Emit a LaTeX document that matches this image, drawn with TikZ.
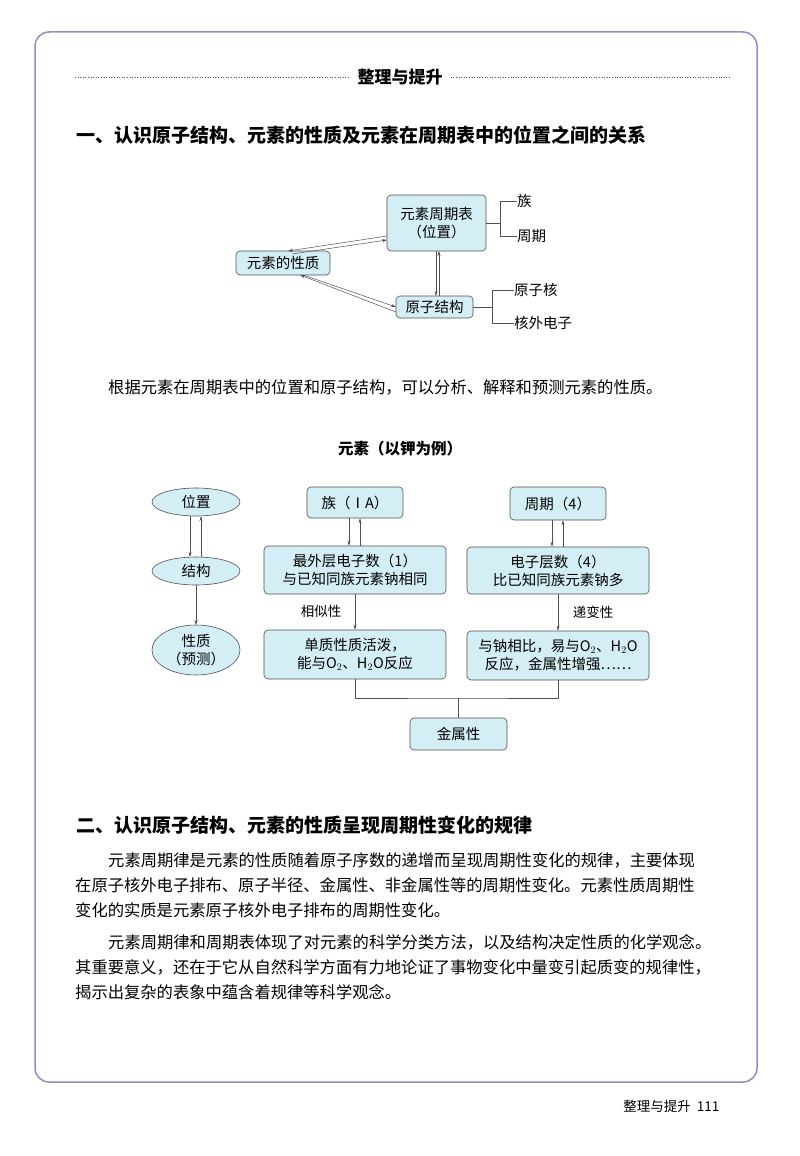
\documentclass[tikz,border=0pt]{standalone}
\usepackage{fontspec}
\setmainfont{Noto Sans CJK SC}
\usetikzlibrary{shapes.geometric,arrows.meta}
\definecolor{bx}{RGB}{212,238,245}
\definecolor{frm}{RGB}{150,140,200}
\definecolor{ln}{RGB}{80,80,80}
\tikzset{
 bx/.style={draw=ln,fill=bx,rounded corners=4pt,line width=0.6pt,inner sep=2pt,font=\fontsize{14.5}{18}\selectfont,align=center},
 el/.style={draw=ln,fill=bx,ellipse,line width=0.6pt,inner sep=1pt,font=\fontsize{14.5}{18}\selectfont,align=center},
 ar/.style={-{Stealth[length=5pt,width=3pt]},draw=ln,line width=0.5pt},
 ln/.style={draw=ln,line width=0.6pt},
 lbl/.style={font=\fontsize{14.5}{18}\selectfont,anchor=west,inner sep=0pt},
 para/.style={font=\fontsize{16.3}{20}\selectfont,anchor=west,inner sep=0pt},
}
\begin{document}
\begin{tikzpicture}[x=1pt,y=-1pt]
\useasboundingbox (0,0) rectangle (800,1156);
\draw[frm,line width=1.5pt,rounded corners=14pt] (35,32) rectangle (757,1082);
\node[font=\bfseries\fontsize{17}{20}\selectfont,inner xsep=8pt] (hdr) at (400,77) {整理与提升};
\draw[dotted,line width=1.2pt,ln] (75,77) -- (hdr.west);
\draw[dotted,line width=1.2pt,ln] (hdr.east) -- (730,77);
\node[font=\bfseries\fontsize{19}{22}\selectfont,anchor=west] (h1) at (73,135) {一、认识原子结构、元素的性质及元素在周期表中的位置之间的关系};
% top diagram
\node[bx,minimum width=99pt,minimum height=56pt] (tab) at (436.5,223) {元素周期表\\（位置）};
\node[bx,minimum width=94pt,minimum height=24pt] (xz) at (283,263) {元素的性质};
\node[bx,minimum width=77pt,minimum height=22pt] (yz) at (434.5,307) {原子结构};
\node[lbl] (zu) at (517,201) {族};
\node[lbl] (zq) at (517,236) {周期};
\node[lbl] (yzh) at (514,290) {原子核};
\node[lbl] (hw) at (514,323) {核外电子};
\draw[ln] (tab.east) -- (500,223) (500,201) -- (zu.west) (500,236) -- (zq.west) (500,201) -- (500,236);
\draw[ln] (yz.east) -- (492,307) (492,290) -- (yzh.west) (492,323) -- (hw.west) (492,290) -- (492,323);
\draw[ar] (387,236) -- (288,251);
\draw[ar] (292,254) -- (387,240);
\draw[ar] (396,312) -- (300,275);
\draw[ar] (303,275) -- (396,307) ;
\draw[ar] (436,251) -- (436,296);
\draw[ar] (439,296) -- (439,251);
\node[para] (p0) at (108,387) {根据元素在周期表中的位置和原子结构，可以分析、解释和预测元素的性质。};
% second diagram
\node[font=\bfseries\fontsize{15.5}{18}\selectfont] (t2) at (400,449) {元素（以钾为例）};
\node[el,minimum width=88pt,minimum height=28pt] (wz) at (196,502) {位置};
\node[el,minimum width=88pt,minimum height=28pt] (jg) at (196,571) {结构};
\node[el,minimum width=88pt,minimum height=50pt] (xzy) at (196,650) {性质\\（预测）};
\draw[ar] (190,516) -- (190,557);
\draw[ar] (201,557) -- (201,516);
\draw[ar] (196,585) -- (196,625);
\node[bx,minimum width=96pt,minimum height=31pt] (zuA) at (355,502.5) {族（ⅠA）};
\node[bx,minimum width=96pt,minimum height=33pt] (zq4) at (558,503.5) {周期（4）};
\node[bx,minimum width=182pt,minimum height=48pt] (zwc) at (355,570) {最外层电子数（1）\\与已知同族元素钠相同};
\node[bx,minimum width=182pt,minimum height=47pt] (dzc) at (558,570.5) {电子层数（4）\\比已知同族元素钠多};
\node[bx,minimum width=182pt,minimum height=49pt] (dz) at (355,654.5) {单质性质活泼，\\能与O$_2$、H$_2$O反应};
\node[bx,minimum width=182pt,minimum height=49pt] (yn) at (558,655.5) {与钠相比，易与O$_2$、H$_2$O\\反应，金属性增强……};
\node[bx,minimum width=97pt,minimum height=32pt] (js) at (458.5,734) {金属性};
\draw[ar] ([xshift=-6pt]zuA.south) -- ([xshift=-6pt]zwc.north);
\draw[ar] ([xshift=5pt]zwc.north) -- ([xshift=5pt]zuA.south);
\draw[ar] ([xshift=-6pt]zq4.south) -- ([xshift=-6pt]dzc.north);
\draw[ar] ([xshift=5pt]dzc.north) -- ([xshift=5pt]zq4.south);
\draw[ar] (zwc.south) -- (dz.north);
\draw[ar] (dzc.south) -- (yn.north);
\node[font=\fontsize{13.5}{16}\selectfont] (xs) at (321,611) {相似性};
\node[font=\fontsize{13.5}{16}\selectfont] (db) at (593,612) {递变性};
\coordinate (m) at (458.5,698);
\draw[ln] (dz.south) |- (m) -| (yn.south);
\draw[ln] (m) -- (js.north);
\node[font=\bfseries\fontsize{19}{22}\selectfont,anchor=west] (h2) at (73,825) {二、认识原子结构、元素的性质呈现周期性变化的规律};
\node[para] (l1) at (108,860) {元素周期律是元素的性质随着原子序数的递增而呈现周期性变化的规律，主要体现};
\node[para] (l2) at (75,885) {在原子核外电子排布、原子半径、金属性、非金属性等的周期性变化。元素性质周期性};
\node[para] (l3) at (75,910) {变化的实质是元素原子核外电子排布的周期性变化。};
\node[para] (l4) at (108,942) {元素周期律和周期表体现了对元素的科学分类方法，以及结构决定性质的化学观念。};
\node[para] (l5) at (75,967) {其重要意义，还在于它从自然科学方面有力地论证了事物变化中量变引起质变的规律性，};
\node[para] (l6) at (75,992) {揭示出复杂的表象中蕴含着规律等科学观念。};
\node[font=\fontsize{13.5}{16}\selectfont,anchor=east] (ft) at (723,1106) {整理与提升\ \ 111};
\end{tikzpicture}
\end{document}
